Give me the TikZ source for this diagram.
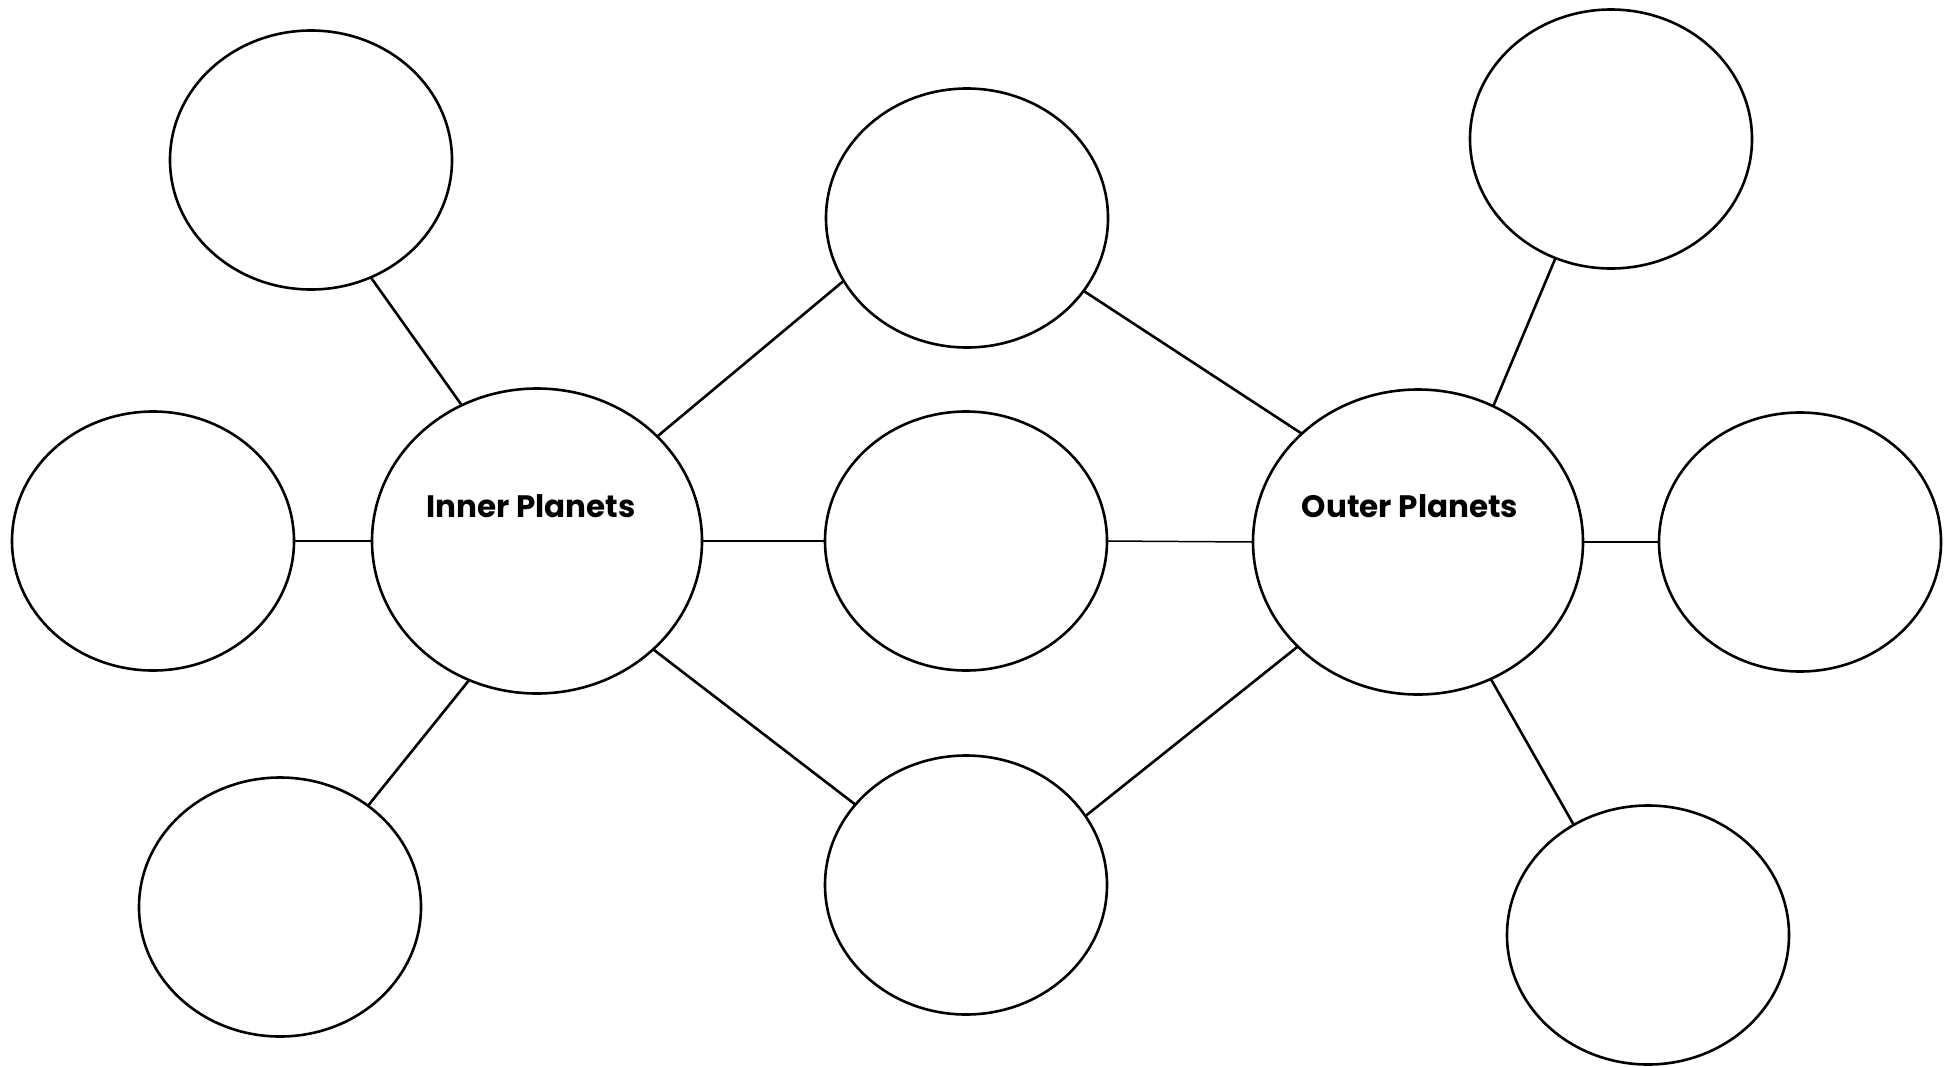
\documentclass[tikz,border=0pt]{standalone}
\usepackage{fontspec}
\setmainfont{Poppins}
\usetikzlibrary{shapes.geometric}
\begin{document}
\begin{tikzpicture}[x=1pt,y=-1pt,
  bubble/.style={ellipse, draw=black, line width=2.6pt, minimum width=282pt, minimum height=259pt, inner sep=0pt, outer sep=0pt},
  bigbubble/.style={bubble, minimum width=330pt, minimum height=305pt},
  link/.style={draw=black, line width=2.6pt},
  thinlink/.style={draw=black, line width=1.5pt},
  title/.style={font=\fontsize{31}{36}\selectfont\bfseries, anchor=base, inner sep=0pt}]
\useasboundingbox[fill=white] (0,0) rectangle (1954,1066);
% nodes
\node[bubble] (tl) at (311,160) {};
\node[bubble] (lm) at (153,541) {};
\node[bubble] (bl) at (280,907) {};
\node[bigbubble] (inner) at (537,541) {};
\node[bubble] (tm) at (967,218) {};
\node[bubble] (mm) at (966,541) {};
\node[bubble] (bm) at (966,885) {};
\node[bigbubble] (outer) at (1418,542) {};
\node[bubble] (tr) at (1611,139) {};
\node[bubble] (rm) at (1800,542) {};
\node[bubble] (br) at (1648,935) {};
\node[title] (innerlabel) at (531,517) {Inner Planets};
\node[title] (outerlabel) at (1410,517) {Outer Planets};
% connectors
\draw[link] (tl.-63.7) -- (inner.119.7);
\draw[link] (lm.0) -- (inner.180);
\draw[link] (bl.49) -- (inner.244.3);
\draw[link] (inner.41.1) -- (tm.207.9);
\draw[link] (inner.0) -- (mm.180);
\draw[link] (inner.-43.9) -- (bm.144.9);
\draw[link] (tm.-32) -- (outer.137.5);
\draw[thinlink] (mm.0) -- (outer.180);
\draw[link] (bm.30.3) -- (outer.221.2);
\draw[link] (outer.61.4) -- (tr.245.7);
\draw[link] (outer.0) -- (rm.180);
\draw[link] (outer.-62) -- (br.124.2);
\end{tikzpicture}
\end{document}
